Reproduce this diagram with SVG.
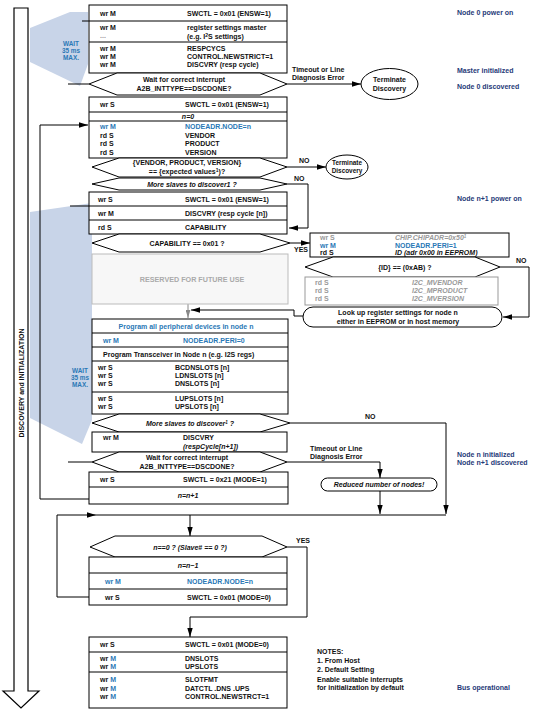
<svg xmlns="http://www.w3.org/2000/svg" width="536" height="711" viewBox="0 0 536 711">
<defs>
<style>
.bx{fill:#fff;stroke:#000;stroke-width:1}
.gb{fill:#fff;stroke:#999;stroke-width:1}
.t{font-family:"Liberation Sans",Arial,sans-serif;font-size:7px;font-weight:bold;fill:#111}
.c{text-anchor:middle}
.i{font-style:italic}
.bl{fill:#2a78b6}
.gr{fill:#999}
.sm{font-size:6.4px}
.nv{font-family:"Liberation Sans",Arial,sans-serif;font-size:7px;font-weight:bold;fill:#1f3a78}
.ln{fill:none;stroke:#000;stroke-width:1}
.wait{fill:#c8d4e8}
</style>
<marker id="ah" viewBox="0 0 10 6" refX="10" refY="3" markerWidth="9" markerHeight="5.5" markerUnits="userSpaceOnUse" orient="auto"><path d="M0,0L10,3L0,6Z" fill="#000"/></marker>
<marker id="ahg" viewBox="0 0 10 6" refX="10" refY="3" markerWidth="8" markerHeight="5" markerUnits="userSpaceOnUse" orient="auto"><path d="M0,0L10,3L0,6Z" fill="#888"/></marker>
</defs>
<rect width="536" height="711" fill="#fff"/>

<g id="bigarrow">
<path d="M14,8H28V691H39L21,708L3,691H14Z" fill="#fff" stroke="#000" stroke-width="1.2"/>
<text class="t" transform="translate(23.5,383) rotate(-90)" text-anchor="middle">DISCOVERY and INITIALIZATION</text>
</g>

<g id="wait1">
<polygon class="wait" points="30,28 70,12 88,12 88,64 80,86 30,62"/>
<text class="t bl c sm" x="71" y="46">WAIT</text>
<text class="t bl c sm" x="71" y="53">35 ms</text>
<text class="t bl c sm" x="71" y="60">MAX.</text>
</g>
<g id="wait2">
<polygon class="wait" points="30,212 92,203 92,420 82,444 30,418"/>
<text class="t bl c sm" x="80" y="373">WAIT</text>
<text class="t bl c sm" x="80" y="380">35 ms</text>
<text class="t bl c sm" x="80" y="387">MAX.</text>
</g>

<g id="connectors">
<line class="ln" x1="82" y1="21" x2="89" y2="21"/>
<line class="ln" x1="68" y1="84" x2="89" y2="84"/>
<line class="ln" x1="287" y1="84" x2="361" y2="84" marker-end="url(#ah)"/>
<line class="ln" x1="287" y1="167" x2="326" y2="167" marker-end="url(#ah)"/>
<polyline class="ln" points="287,184 308,184 308,228 289,228" marker-end="url(#ah)"/>
<line class="ln" x1="70" y1="206" x2="89" y2="206"/>
<line class="ln" x1="290" y1="243" x2="310" y2="243" marker-end="url(#ah)"/>
<line x1="188" y1="304" x2="188" y2="318" stroke="#888" stroke-width="1" marker-end="url(#ahg)"/>
<polyline class="ln" points="500,267 529,267 529,317 503,317" marker-end="url(#ah)"/>
<polyline class="ln" points="303,316 294,316 294,310 191,310" marker-end="url(#ah)"/>
<polyline class="ln" points="290,423 446,423 446,514" marker-end="url(#ah)"/>
<line class="ln" x1="68" y1="462" x2="92" y2="462"/>
<polyline class="ln" points="287,462 380,462 380,478" marker-end="url(#ah)"/>
<line class="ln" x1="380" y1="491" x2="380" y2="514" marker-end="url(#ah)"/>
<polyline class="ln" points="89,499 40,499 40,125 88,125" marker-end="url(#ah)"/>
<polyline class="ln" points="89,597 57,597 57,515 96,515" marker-end="url(#ah)"/>
<line class="ln" x1="96" y1="515" x2="446" y2="515"/>
<line class="ln" x1="190" y1="515" x2="190" y2="536" marker-end="url(#ah)"/>
<polyline class="ln" points="287,547 307,547 307,617 190,617 190,637" marker-end="url(#ah)"/>
<text class="t" x="292" y="72">Timeout or Line</text>
<text class="t" x="292" y="80">Diagnosis Error</text>
<text class="t" x="299" y="163">NO</text>
<text class="t" x="294" y="181">NO</text>
<text class="t" x="294" y="252">YES</text>
<text class="t" x="516" y="263">NO</text>
<text class="t" x="365" y="419">NO</text>
<text class="t" x="310" y="451">Timeout or Line</text>
<text class="t" x="310" y="459">Diagnosis Error</text>
<text class="t" x="296" y="543">YES</text>
</g>

<g id="labels">
<text class="nv" x="457" y="15">Node 0 power on</text>
<text class="nv" x="457" y="73">Master initialized</text>
<text class="nv" x="457" y="89">Node 0 discovered</text>
<text class="nv" x="457" y="201">Node n+1 power on</text>
<text class="nv" x="457" y="457">Node n initialized</text>
<text class="nv" x="457" y="465">Node n+1 discovered</text>
<text class="nv" x="457" y="690">Bus operational</text>
</g>

<g id="n_master">
<rect class="bx" x="89" y="5" width="198" height="68"/>
<line class="ln" x1="89" y1="21" x2="287" y2="21"/>
<line class="ln" x1="89" y1="42" x2="287" y2="42"/>
<text class="t" x="100" y="15.5">wr  M</text>
<text class="t" x="187" y="15.5">SWCTL = 0x01 (ENSW=1)</text>
<text class="t" x="100" y="30">wr  M</text>
<text class="t gr" x="100" y="38">...</text>
<text class="t" x="187" y="30">register settings master</text>
<text class="t" x="187" y="38.5">(e.g. I<tspan font-size="5" dy="-2">2</tspan><tspan dy="2">S settings)</tspan></text>
<text class="t" x="100" y="51">wr  M</text>
<text class="t" x="100" y="59">wr  M</text>
<text class="t" x="100" y="67">wr  M</text>
<text class="t" x="187" y="51">RESPCYCS</text>
<text class="t" x="187" y="59">CONTROL.NEWSTRICT=1</text>
<text class="t" x="187" y="67">DISCVRY (resp cycle)</text>
</g>

<g id="d_int0">
<polygon class="bx" points="89,84 117,73 260,73 287,84 260,95 117,95"/>
<text class="t c" x="184" y="82">Wait for correct interrupt</text>
<text class="t c" x="184" y="91">A2B_INTTYPE==DSCDONE?</text>
</g>

<g id="term1">
<ellipse class="bx" cx="389.5" cy="84" rx="28.5" ry="15.5"/>
<text class="t c" x="389.5" y="82">Terminate</text>
<text class="t c" x="389.5" y="90.5">Discovery</text>
</g>

<g id="n_slave0">
<rect class="bx" x="89" y="97" width="198" height="61"/>
<line class="ln" x1="89" y1="112" x2="287" y2="112"/>
<line class="ln" x1="89" y1="121" x2="287" y2="121"/>
<text class="t" x="100" y="107">wr  S</text>
<text class="t" x="185" y="107">SWCTL = 0x01 (ENSW=1)</text>
<text class="t c i" x="188" y="119">n=0</text>
<text class="t bl" x="100" y="129">wr  M</text>
<text class="t bl" x="185" y="129">NODEADR.NODE=n</text>
<text class="t" x="100" y="137.5">rd  S</text>
<text class="t" x="185" y="137.5">VENDOR</text>
<text class="t" x="100" y="146">rd  S</text>
<text class="t" x="185" y="146">PRODUCT</text>
<text class="t" x="100" y="154.5">rd  S</text>
<text class="t" x="185" y="154.5">VERSION</text>
</g>

<g id="d_vendor">
<polygon class="bx" points="92,167 119,158 260,158 287,167 260,177 119,177"/>
<text class="t c" x="187" y="165">{VENDOR, PRODUCT, VERSION}</text>
<text class="t c" x="187" y="174">== {expected values<tspan font-size="5" dy="-2">1</tspan><tspan dy="2">)?</tspan></text>
</g>

<g id="term2">
<ellipse class="bx" cx="347" cy="167" rx="21" ry="12"/>
<text class="t c sm" x="347" y="165">Terminate</text>
<text class="t c sm" x="347" y="172.5">Discovery</text>
</g>

<g id="d_more1">
<polygon class="bx" points="92,184 119,178 260,178 287,184 260,190 119,190"/>
<text class="t c i" x="192" y="186.5">More slaves to discover1 ?</text>
</g>

<g id="n_next">
<rect class="bx" x="89" y="192" width="198" height="42"/>
<line class="ln" x1="89" y1="206" x2="287" y2="206"/>
<line class="ln" x1="89" y1="220" x2="287" y2="220"/>
<text class="t" x="98" y="201.5">wr  S</text>
<text class="t" x="185" y="201.5">SWCTL = 0x01 (ENSW=1)</text>
<text class="t" x="98" y="215.5">wr  M</text>
<text class="t" x="185" y="215.5">DISCVRY (resp cycle [n])</text>
<text class="t" x="98" y="229.5">rd  S</text>
<text class="t" x="185" y="229.5">CAPABILITY</text>
</g>

<g id="d_cap">
<polygon class="bx" points="92,243 119,234 260,234 290,243 260,252 119,252"/>
<text class="t c" x="187" y="245.5">CAPABILITY == 0x01 ?</text>
</g>

<g id="reserved">
<rect x="92" y="254" width="196" height="50" fill="#f7f7f7" stroke="#bbb" stroke-width="1"/>
<text class="t c" x="192" y="281.5" style="fill:#aaa;font-size:7.2px">RESERVED FOR FUTURE USE</text>
</g>

<g id="n_chip">
<rect class="bx" x="310" y="233" width="199" height="24"/>
<text class="t gr" x="320" y="240">wr  S</text>
<text class="t gr i" x="395" y="240">CHIP.CHIPADR=0x50<tspan font-size="4.5" dy="-2">1</tspan></text>
<text class="t bl" x="320" y="247.5">wr  M</text>
<text class="t bl" x="395" y="247.5">NODEADR.PERI=1</text>
<text class="t" x="320" y="255">rd  S</text>
<text class="t i" x="395" y="255">ID (adr 0x00 in EEPROM)</text>
</g>

<g id="d_id">
<polygon class="bx" points="305,267 333,257 475,257 500,267 475,277 333,277"/>
<text class="t c" x="405" y="269.5">{ID} == (0xAB) ?</text>
</g>

<g id="n_i2c">
<rect class="gb" x="305" y="277" width="193" height="28"/>
<text class="t gr" x="315" y="284.5">rd  S</text>
<text class="t gr i" x="412" y="284.5">I2C_MVENDOR</text>
<text class="t gr" x="315" y="292.5">rd  S</text>
<text class="t gr i" x="412" y="292.5">I2C_MPRODUCT</text>
<text class="t gr" x="315" y="300.5">rd  S</text>
<text class="t gr i" x="412" y="300.5">I2C_MVERSION</text>
</g>

<g id="n_lookup">
<rect class="bx" x="303" y="307" width="199" height="20" rx="10"/>
<text class="t c" x="398" y="315">Look up register settings for node n</text>
<text class="t c" x="398" y="323.5">either in EEPROM or in host memory</text>
</g>

<g id="n_program">
<rect class="bx" x="92" y="319" width="196" height="95"/>
<line class="ln" x1="92" y1="333" x2="288" y2="333"/>
<line class="ln" x1="92" y1="347" x2="288" y2="347"/>
<line class="ln" x1="92" y1="361" x2="288" y2="361"/>
<line class="ln" x1="92" y1="392" x2="288" y2="392"/>
<text class="t bl c" x="186" y="328.5">Program all peripheral devices in node n</text>
<text class="t bl" x="103" y="342.5">wr  M</text>
<text class="t bl" x="183" y="342.5">NODEADR.PERI=0</text>
<text class="t" x="103" y="356.5">Program Transceiver in Node n  (e.g. I2S regs)</text>
<text class="t" x="98" y="369.5">wr  S</text>
<text class="t" x="175" y="369.5">BCDNSLOTS [n]</text>
<text class="t" x="98" y="377.5">wr  S</text>
<text class="t" x="175" y="377.5">LDNSLOTS [n]</text>
<text class="t" x="98" y="385.5">wr  S</text>
<text class="t" x="175" y="385.5">DNSLOTS [n]</text>
<text class="t" x="98" y="400.5">wr  S</text>
<text class="t" x="175" y="400.5">LUPSLOTS [n]</text>
<text class="t" x="98" y="408.5">wr  S</text>
<text class="t" x="175" y="408.5">UPSLOTS [n]</text>
</g>

<g id="d_more2">
<polygon class="bx" points="92,423 119,414 260,414 290,423 260,432 119,432"/>
<text class="t c i" x="190" y="425.5">More slaves to discover<tspan font-size="4.5" dy="-2">1</tspan><tspan dy="2"> ?</tspan></text>
</g>

<g id="n_discvry">
<rect class="bx" x="92" y="432" width="195" height="20"/>
<text class="t" x="103" y="440">wr  M</text>
<text class="t" x="183" y="440">DISCVRY</text>
<text class="t i" x="183" y="449">(respCycle[n+1])</text>
</g>

<g id="d_int1">
<polygon class="bx" points="92,462 119,452 260,452 287,462 260,472 119,472"/>
<text class="t c" x="187" y="460">Wait for correct interrupt</text>
<text class="t c" x="187" y="469">A2B_INTTYPE==DSCDONE?</text>
</g>

<g id="n_reduced">
<rect class="bx" x="321" y="478" width="116" height="13" rx="6.5"/>
<text class="t c i" x="379" y="487">Reduced number of nodes!</text>
</g>

<g id="n_mode1">
<rect class="bx" x="89" y="472" width="199" height="32"/>
<line class="ln" x1="89" y1="487" x2="288" y2="487"/>
<text class="t" x="100" y="482">wr  S</text>
<text class="t" x="183" y="482">SWCTL = 0x21 (MODE=1)</text>
<text class="t c i" x="188" y="498">n=n+1</text>
</g>

<g id="d_n0">
<polygon class="bx" points="90,547 115,536 262,536 287,547 262,557 115,557"/>
<text class="t c i" x="190" y="549.5">n==0 ? (Slave# == 0 ?)</text>
</g>

<g id="n_back">
<rect class="bx" x="89" y="557" width="198" height="48"/>
<line class="ln" x1="89" y1="573" x2="287" y2="573"/>
<line class="ln" x1="89" y1="589" x2="287" y2="589"/>
<text class="t c i" x="188" y="567.5">n=n−1</text>
<text class="t bl" x="105" y="583.5">wr  M</text>
<text class="t bl" x="187" y="583.5">NODEADR.NODE=n</text>
<text class="t" x="105" y="599.5">wr  S</text>
<text class="t" x="187" y="599.5">SWCTL = 0x01 (MODE=0)</text>
</g>

<g id="n_final">
<rect class="bx" x="89" y="637" width="198" height="71"/>
<line class="ln" x1="89" y1="652" x2="287" y2="652"/>
<line class="ln" x1="89" y1="672" x2="287" y2="672"/>
<text class="t" x="100" y="647">wr  S</text>
<text class="t" x="185" y="647">SWCTL = 0x01 (MODE=0)</text>
<text class="t" x="100" y="661">wr  <tspan class="bl">M</tspan></text>
<text class="t" x="185" y="661">DNSLOTS</text>
<text class="t" x="100" y="669">wr  <tspan class="bl">M</tspan></text>
<text class="t" x="185" y="669">UPSLOTS</text>
<text class="t" x="100" y="682">wr  <tspan class="bl">M</tspan></text>
<text class="t" x="185" y="682">SLOTFMT</text>
<text class="t" x="100" y="690.5">wr  <tspan class="bl">M</tspan></text>
<text class="t" x="185" y="690.5">DATCTL .DNS .UPS</text>
<text class="t" x="100" y="699">wr  <tspan class="bl">M</tspan></text>
<text class="t" x="185" y="699">CONTROL.NEWSTRCT=1</text>
</g>

<g id="notes">
<text class="t" x="317" y="654">NOTES:</text>
<text class="t" x="317" y="663">1. From Host</text>
<text class="t" x="317" y="672">2. Default Setting</text>
<text class="t" x="317" y="682">Enable suitable interrupts</text>
<text class="t" x="317" y="690">for initialization by default</text>
</g>
</svg>
